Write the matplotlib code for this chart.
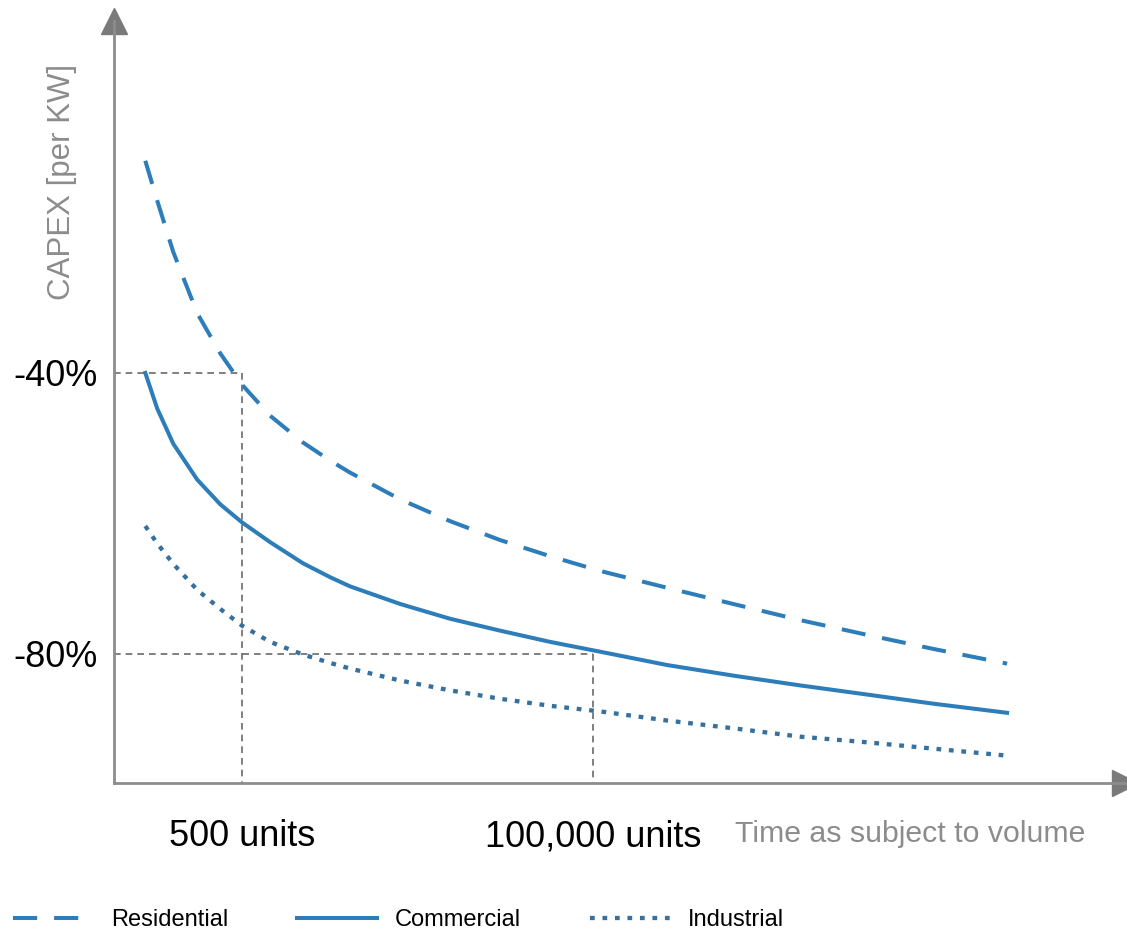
import matplotlib
matplotlib.use('Agg')
import matplotlib.pyplot as plt

plt.rcParams['font.family'] = ['Liberation Sans', 'DejaVu Sans']

# production volume (units) and CAPEX change (%)
volume = [116, 139, 177, 254, 359, 500, 763, 1250, 1890, 2550, 5420,
          11500, 24500, 52100, 111000, 305000, 825000, 2.27e6, 6.23e6,
          1.69e7, 5.15e7]
residential = [-9.8, -15.5, -22.8, -31.5, -37.2, -41.7, -46.1, -49.9, -52.5,
               -54.2, -58.0, -61.1, -63.8, -66.1, -68.2, -70.6, -72.9, -75.2,
               -77.3, -79.3, -81.4]
commercial = [-40.0, -45.1, -50.1, -55.2, -58.7, -61.3, -64.1, -67.1, -69.1,
              -70.4, -72.9, -75.0, -76.7, -78.3, -79.7, -81.6, -83.1, -84.5,
              -85.8, -87.1, -88.4]
industrial = [-61.8, -64.3, -67.2, -70.9, -73.6, -76.0, -78.3, -80.1, -81.3,
              -82.1, -83.8, -85.2, -86.4, -87.4, -88.2, -89.5, -90.6, -91.8,
              -92.6, -93.5, -94.5]

tick_volumes = [500, 100000]
tick_volume_labels = ['500 units', '100,000 units']
tick_pcts = [-40, -80]
tick_pct_labels = ['-40%', '-80%']

blue = '#2d7dba'
dot_blue = '#36709e'
axis_gray = '#8c8c8c'
guide_gray = '#6a6a6a'

fig = plt.figure(figsize=(11.27, 9.38), dpi=100)
ax = fig.add_axes([0.1012, 0.1652, 0.8970, 0.8124])
ax.set_xscale('log')
ax.set_xlim(72.4, 3.05e8)
ax.set_ylim(-98.4, 10.1)

lw = 2.9
l1, = ax.plot(volume, residential, color=blue, lw=lw, dashes=(6.0, 4.2),
              label='Residential')
l2, = ax.plot(volume, commercial, color=blue, lw=lw, label='Commercial')
l3, = ax.plot(volume, industrial, color=dot_blue, lw=3.1, dashes=(1.1, 1.8),
              label='Industrial')

# guide lines from the axes to the two reference volumes
y0 = ax.get_ylim()[0]
x0 = ax.get_xlim()[0]
for v, p in zip(tick_volumes, tick_pcts):
    ax.plot([x0, v], [p, p], color=guide_gray, lw=1.2, dashes=(4, 3), zorder=1)
    ax.plot([v, v], [p, y0], color=guide_gray, lw=1.2, dashes=(4, 3), zorder=1)

for side in ['top', 'right']:
    ax.spines[side].set_visible(False)
for side in ['left', 'bottom']:
    ax.spines[side].set_color(axis_gray)
    ax.spines[side].set_linewidth(2)

# arrow heads
ax.plot([0], [1], marker='^', ms=19, color='#7a7a7a', transform=ax.transAxes,
        clip_on=False)
ax.plot([1], [0], marker='>', ms=19, color='#7a7a7a', transform=ax.transAxes,
        clip_on=False)

ax.set_yticks(tick_pcts)
ax.set_yticklabels(tick_pct_labels, fontsize=26)
ax.set_xticks(tick_volumes)
ax.set_xticklabels(tick_volume_labels, fontsize=26)
ax.xaxis.set_minor_locator(matplotlib.ticker.NullLocator())
ax.tick_params(axis='y', length=0, pad=12)
ax.tick_params(axis='x', length=0, pad=26)

fig.text(735 / 1127, 1 - 834 / 938, 'Time as subject to volume', fontsize=21.8,
         color='#8c8c8c', ha='left', va='center')
fig.text(62 / 1127, 1 - 182 / 938, 'CAPEX [per KW]', fontsize=22.5,
         color='#8c8c8c', rotation=90, ha='center', va='center')

fig.legend(handles=[l1, l2, l3], loc='center left',
           bbox_to_anchor=(13 / 1127, 1 - 920 / 938), ncol=3, frameon=False,
           fontsize=17, handlelength=3.4, handletextpad=0.76, columnspacing=2.9,
           borderpad=0, borderaxespad=0)

fig.savefig('out.png', dpi=100)
